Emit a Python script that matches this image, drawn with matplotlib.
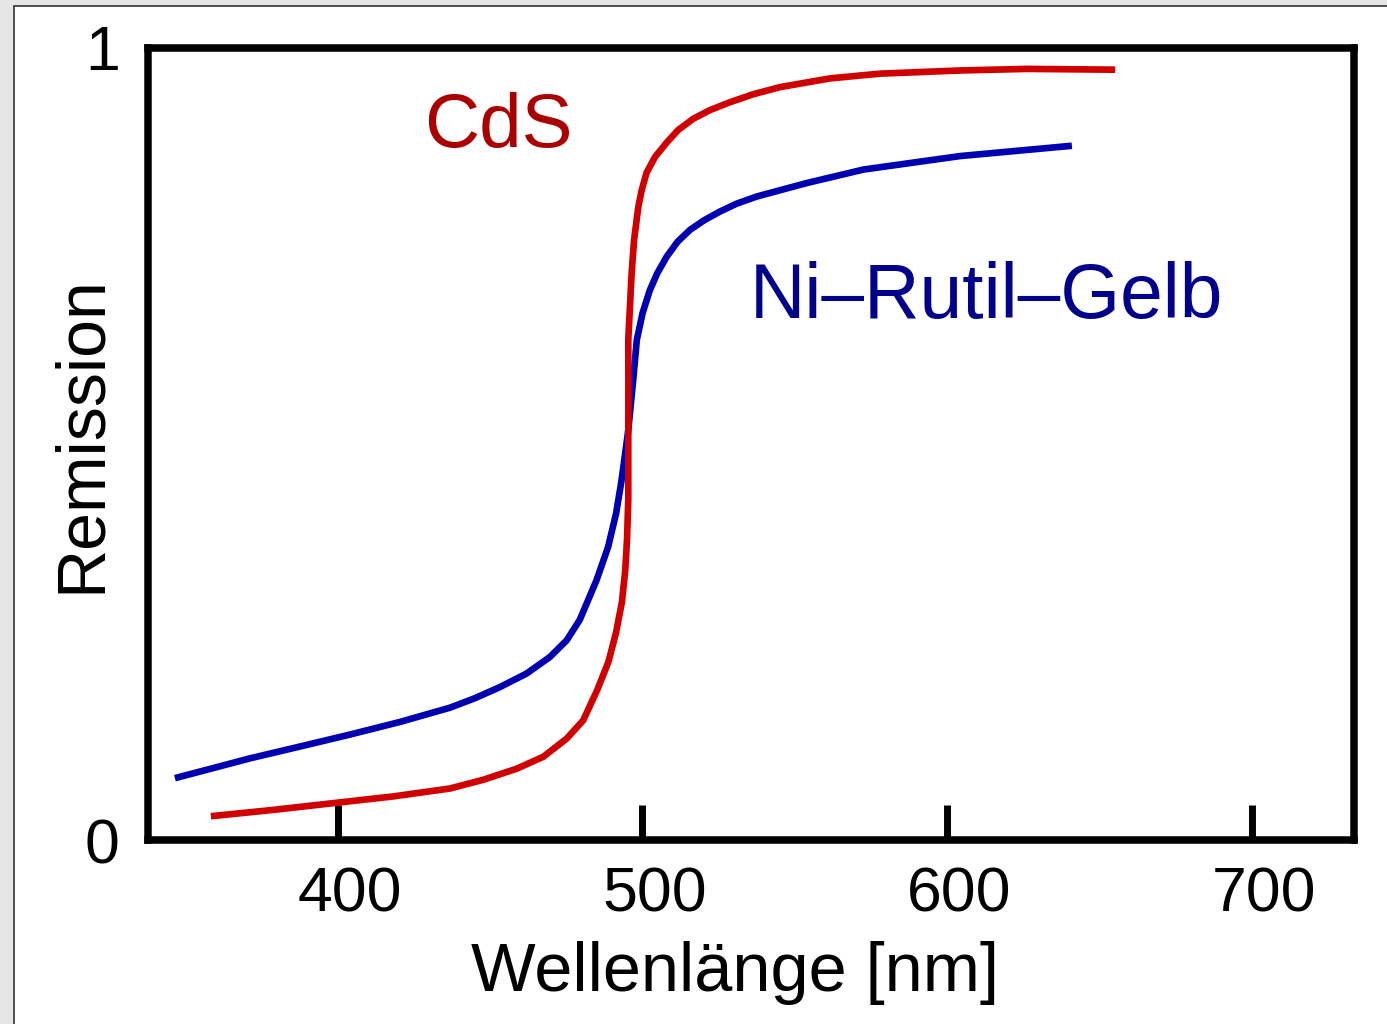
import matplotlib.pyplot as plt
from matplotlib.patches import Rectangle
from matplotlib.transforms import ScaledTranslation

# Remissionskurven
cds_nm = [358.4, 378.9, 399.7, 418.3, 436.9, 447.8, 458.8, 467.5, 475.2, 480.6,
          485.3, 488.9, 491.4, 493.3, 494.4, 495.0, 495.4, 495.4, 495.4,
          496.5, 497.3, 498.7, 499.8, 501.4, 504.2, 508.0, 511.8, 516.7, 522.2,
          528.8, 536.4, 545.2, 561.6, 578.0, 604.3, 626.2, 655.2]
cds_rem = [0.030, 0.038, 0.047, 0.055, 0.065, 0.076, 0.090, 0.105, 0.128, 0.151,
           0.190, 0.225, 0.262, 0.300, 0.340, 0.380, 0.430, 0.580, 0.631,
           0.715, 0.757, 0.799, 0.820, 0.842, 0.862, 0.880, 0.896, 0.910, 0.921,
           0.931, 0.941, 0.950, 0.961, 0.967, 0.971, 0.973, 0.972]

ni_nm = [346.6, 371.2, 387.7, 404.0, 420.5, 436.9, 445.1, 453.3, 462.0, 469.7,
         475.2, 479.5, 485.0, 488.8, 491.4, 493.2, 495.4, 497.0, 498.2, 500.1,
         502.5, 504.9, 508.0, 511.6, 515.7, 520.3, 525.5, 531.0, 537.6, 554.0,
         572.6, 604.3, 641.0]
ni_rem = [0.078, 0.103, 0.118, 0.133, 0.149, 0.167, 0.179, 0.193, 0.210, 0.231,
          0.252, 0.278, 0.328, 0.370, 0.412, 0.454, 0.517, 0.580, 0.631, 0.665,
          0.694, 0.715, 0.736, 0.755, 0.770, 0.782, 0.793, 0.803, 0.812, 0.829,
          0.846, 0.863, 0.876]

xticks = [400, 500, 600, 700]
yticks = [0, 1]

plt.rcParams['font.family'] = ['Liberation Sans', 'DejaVu Sans']

W, H = 1387, 1024
fig = plt.figure(figsize=(W / 100, H / 100), dpi=100, facecolor='#e6e6e6')

# weisses Blatt mit duennem Rand (links/oben)
fig.patches.append(Rectangle((14 / W, -0.02), 1.05, 1 - 6 / H + 0.02,
                             transform=fig.transFigure, facecolor='white',
                             edgecolor='#333333', lw=1.2, zorder=-10))

left, right, top, bottom = 147.5, 1354, 47.5, 840
ax = fig.add_axes([left / W, 1 - bottom / H, (right - left) / W, (bottom - top) / H])
ax.set_zorder(5)

ax.plot(ni_nm, ni_rem, color='#0000b0', lw=4.8, solid_capstyle='butt',
        solid_joinstyle='round')
ax.plot(cds_nm, cds_rem, color='#d00000', lw=4.8, solid_capstyle='butt',
        solid_joinstyle='round')

ax.set_xlim(337.6, 733.6)
ax.set_ylim(0, 1)

for s in ax.spines.values():
    s.set_linewidth(5.4)

ax.set_xticks(xticks)
ax.set_yticks(yticks)
ax.tick_params(axis='x', direction='in', length=25, width=5, labelsize=45, pad=18)
ax.tick_params(axis='y', length=0, labelsize=45, pad=20)
for lab in ax.get_xticklabels():
    lab.set_transform(lab.get_transform() + ScaledTranslation(0.125, 0, fig.dpi_scale_trans))

ax.text(428.3, 0.874, 'CdS', color='#aa0000', fontsize=55, ha='left', va='baseline')
ax.text(535.4, 0.659, 'Ni\u2013Rutil\u2013Gelb', color='#00008c', fontsize=55.3,
        ha='left', va='baseline')

fig.text(735 / W, 1 - 991 / H, 'Wellenlänge [nm]', fontsize=49.3, ha='center', va='baseline')
fig.text(82 / W, 1 - 434 / H, 'Remission', fontsize=49, rotation=90,
         ha='center', va='center')

fig.savefig('out.png', dpi=100, facecolor=fig.get_facecolor())
